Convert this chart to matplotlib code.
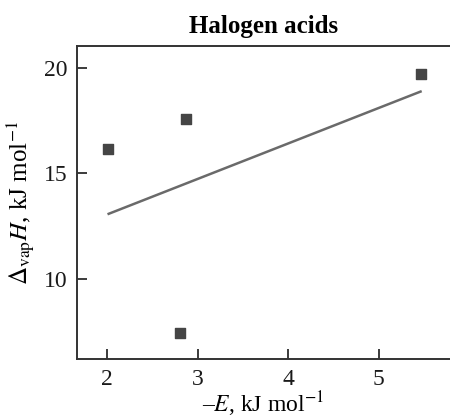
import matplotlib
matplotlib.use('Agg')
import matplotlib.pyplot as plt

# Halogen acids: -E vs vaporisation enthalpy
energy = [2.01, 2.875, 2.81, 5.465]
dh_vap = [16.15, 17.57, 7.43, 19.73]

# least-squares line through the points (end points)
fit_x = [2.02, 5.46]
fit_y = [13.09, 18.88]

x_ticks = [2, 3, 4, 5]
y_ticks = [10, 15, 20]

plt.rcParams['font.family'] = ['Liberation Serif', 'DejaVu Serif']
plt.rcParams['mathtext.fontset'] = 'stix'

fig = plt.figure(figsize=(4.5, 4.18), dpi=100)
ax = fig.add_axes([0.171, 0.141, 0.829, 0.749])

ax.plot(fit_x, fit_y, color='#6a6a6a', linewidth=1.8)
ax.scatter(energy, dh_vap, marker='s', s=42, color='#454545', zorder=3)

ax.set_xlim(1.67, 5.785)
ax.set_ylim(6.21, 21.04)
ax.set_xticks(x_ticks)
ax.set_yticks(y_ticks)
ax.tick_params(direction='in', length=7, width=1.2, labelsize=17,
               colors='#1a1a1a', pad=7)

for side in ['left', 'bottom', 'top']:
    ax.spines[side].set_linewidth(1.4)
    ax.spines[side].set_color('#333333')
ax.spines['right'].set_visible(False)

ax.set_title('Halogen acids', fontsize=18, fontweight='bold', pad=9)
ax.set_xlabel('\u2013$E$, kJ mol$^{-1}$', fontsize=17, labelpad=0)
ax.set_ylabel(r'$\Delta_{\rm vap}H$, kJ mol$^{-1}$', fontsize=18, labelpad=5)

fig.savefig('out.png', dpi=100)
plt.close(fig)
